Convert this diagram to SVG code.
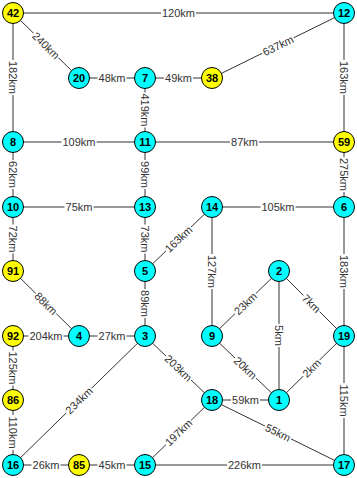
<svg xmlns="http://www.w3.org/2000/svg" width="357" height="478" viewBox="0 0 357 478">
<style>
.e{stroke:#333;stroke-width:1;fill:none}
.lb{fill:#fff}
.lt{font-family:"Liberation Sans",Arial,sans-serif;font-size:11px;fill:#333;text-anchor:middle}
.n circle{stroke:#000;stroke-width:1}
.c{fill:#00ffff}
.y{fill:#ffff00}
.n text{font-family:"Liberation Sans",Arial,sans-serif;font-size:11px;font-weight:bold;fill:#000;text-anchor:middle}
</style>
<rect width="357" height="478" fill="#fff"/>
<g id="connectors">
<line class="e" x1="13" y1="13" x2="344" y2="13"/>
<line class="e" x1="13" y1="13" x2="79" y2="78"/>
<line class="e" x1="13" y1="13" x2="13" y2="142"/>
<line class="e" x1="79" y1="78" x2="145" y2="78"/>
<line class="e" x1="145" y1="78" x2="212" y2="78"/>
<line class="e" x1="145" y1="78" x2="145" y2="142"/>
<line class="e" x1="212" y1="78" x2="344" y2="13"/>
<line class="e" x1="344" y1="13" x2="344" y2="142"/>
<line class="e" x1="13" y1="142" x2="145" y2="142"/>
<line class="e" x1="145" y1="142" x2="344" y2="142"/>
<line class="e" x1="13" y1="142" x2="13" y2="207"/>
<line class="e" x1="145" y1="142" x2="145" y2="207"/>
<line class="e" x1="344" y1="142" x2="344" y2="207"/>
<line class="e" x1="13" y1="207" x2="145" y2="207"/>
<line class="e" x1="212" y1="207" x2="344" y2="207"/>
<line class="e" x1="13" y1="207" x2="13" y2="271"/>
<line class="e" x1="145" y1="207" x2="145" y2="271"/>
<line class="e" x1="145" y1="271" x2="212" y2="207"/>
<line class="e" x1="212" y1="207" x2="212" y2="336"/>
<line class="e" x1="344" y1="207" x2="344" y2="336"/>
<line class="e" x1="212" y1="336" x2="279" y2="271"/>
<line class="e" x1="279" y1="271" x2="279" y2="400"/>
<line class="e" x1="279" y1="271" x2="344" y2="336"/>
<line class="e" x1="13" y1="271" x2="79" y2="336"/>
<line class="e" x1="145" y1="271" x2="145" y2="336"/>
<line class="e" x1="13" y1="336" x2="145" y2="336"/>
<line class="e" x1="145" y1="336" x2="212" y2="400"/>
<line class="e" x1="145" y1="336" x2="13" y2="465"/>
<line class="e" x1="212" y1="336" x2="279" y2="400"/>
<line class="e" x1="279" y1="400" x2="344" y2="336"/>
<line class="e" x1="344" y1="336" x2="344" y2="465"/>
<line class="e" x1="212" y1="400" x2="279" y2="400"/>
<line class="e" x1="212" y1="400" x2="344" y2="465"/>
<line class="e" x1="13" y1="336" x2="13" y2="465"/>
<line class="e" x1="13" y1="465" x2="344" y2="465"/>
<line class="e" x1="145" y1="465" x2="212" y2="400"/>
<g transform="translate(178.5,13)"><rect class="lb" x="-17.5" y="-6" width="35" height="12"/><text class="lt" y="4">120km</text></g>
<g transform="translate(46,45.5) rotate(44.6)"><rect class="lb" x="-17.5" y="-6" width="35" height="12"/><text class="lt" y="4">240km</text></g>
<g transform="translate(13,77.5) rotate(90)"><rect class="lb" x="-17.5" y="-6" width="35" height="12"/><text class="lt" y="4">182km</text></g>
<g transform="translate(112,78)"><rect class="lb" x="-14.5" y="-6" width="29" height="12"/><text class="lt" y="4">48km</text></g>
<g transform="translate(178.5,78)"><rect class="lb" x="-14.5" y="-6" width="29" height="12"/><text class="lt" y="4">49km</text></g>
<g transform="translate(145,110) rotate(90)"><rect class="lb" x="-17.5" y="-6" width="35" height="12"/><text class="lt" y="4">419km</text></g>
<g transform="translate(278,45.5) rotate(-25.9)"><rect class="lb" x="-17.5" y="-6" width="35" height="12"/><text class="lt" y="4">637km</text></g>
<g transform="translate(344,77.5) rotate(90)"><rect class="lb" x="-17.5" y="-6" width="35" height="12"/><text class="lt" y="4">163km</text></g>
<g transform="translate(79,142)"><rect class="lb" x="-17.5" y="-6" width="35" height="12"/><text class="lt" y="4">109km</text></g>
<g transform="translate(244.5,142)"><rect class="lb" x="-14.5" y="-6" width="29" height="12"/><text class="lt" y="4">87km</text></g>
<g transform="translate(13,174.5) rotate(90)"><rect class="lb" x="-14.5" y="-6" width="29" height="12"/><text class="lt" y="4">62km</text></g>
<g transform="translate(145,174.5) rotate(90)"><rect class="lb" x="-14.5" y="-6" width="29" height="12"/><text class="lt" y="4">99km</text></g>
<g transform="translate(344,174.5) rotate(90)"><rect class="lb" x="-17.5" y="-6" width="35" height="12"/><text class="lt" y="4">275km</text></g>
<g transform="translate(79,207)"><rect class="lb" x="-14.5" y="-6" width="29" height="12"/><text class="lt" y="4">75km</text></g>
<g transform="translate(278,207)"><rect class="lb" x="-17.5" y="-6" width="35" height="12"/><text class="lt" y="4">105km</text></g>
<g transform="translate(13,239) rotate(90)"><rect class="lb" x="-14.5" y="-6" width="29" height="12"/><text class="lt" y="4">72km</text></g>
<g transform="translate(145,239) rotate(90)"><rect class="lb" x="-14.5" y="-6" width="29" height="12"/><text class="lt" y="4">73km</text></g>
<g transform="translate(178.5,239) rotate(-43.2)"><rect class="lb" x="-17.5" y="-6" width="35" height="12"/><text class="lt" y="4">163km</text></g>
<g transform="translate(212,271.5) rotate(90)"><rect class="lb" x="-17.5" y="-6" width="35" height="12"/><text class="lt" y="4">127km</text></g>
<g transform="translate(344,271.5) rotate(90)"><rect class="lb" x="-17.5" y="-6" width="35" height="12"/><text class="lt" y="4">183km</text></g>
<g transform="translate(245.5,303.5) rotate(-44)"><rect class="lb" x="-14.5" y="-6" width="29" height="12"/><text class="lt" y="4">23km</text></g>
<g transform="translate(279,335.5) rotate(90)"><rect class="lb" x="-11.5" y="-6" width="23" height="12"/><text class="lt" y="4">5km</text></g>
<g transform="translate(311.5,303.5) rotate(44.5)"><rect class="lb" x="-11.5" y="-6" width="23" height="12"/><text class="lt" y="4">7km</text></g>
<g transform="translate(46,303.5) rotate(45)"><rect class="lb" x="-14.5" y="-6" width="29" height="12"/><text class="lt" y="4">88km</text></g>
<g transform="translate(145,303.5) rotate(90)"><rect class="lb" x="-14.5" y="-6" width="29" height="12"/><text class="lt" y="4">89km</text></g>
<g transform="translate(46,336)"><rect class="lb" x="-17.5" y="-6" width="35" height="12"/><text class="lt" y="4">204km</text></g>
<g transform="translate(112,336)"><rect class="lb" x="-14.5" y="-6" width="29" height="12"/><text class="lt" y="4">27km</text></g>
<g transform="translate(178.5,368) rotate(43.7)"><rect class="lb" x="-17.5" y="-6" width="35" height="12"/><text class="lt" y="4">203km</text></g>
<g transform="translate(79,400.5) rotate(-44.3)"><rect class="lb" x="-17.5" y="-6" width="35" height="12"/><text class="lt" y="4">234km</text></g>
<g transform="translate(245.5,368) rotate(43.7)"><rect class="lb" x="-14.5" y="-6" width="29" height="12"/><text class="lt" y="4">20km</text></g>
<g transform="translate(311.5,368) rotate(-44.5)"><rect class="lb" x="-11.5" y="-6" width="23" height="12"/><text class="lt" y="4">2km</text></g>
<g transform="translate(344,400.5) rotate(90)"><rect class="lb" x="-17.5" y="-6" width="35" height="12"/><text class="lt" y="4">115km</text></g>
<g transform="translate(245.5,400)"><rect class="lb" x="-14.5" y="-6" width="29" height="12"/><text class="lt" y="4">59km</text></g>
<g transform="translate(278,432.5) rotate(26.2)"><rect class="lb" x="-14.5" y="-6" width="29" height="12"/><text class="lt" y="4">55km</text></g>
<g transform="translate(13,368) rotate(90)"><rect class="lb" x="-17.5" y="-6" width="35" height="12"/><text class="lt" y="4">125km</text></g>
<g transform="translate(13,432.5) rotate(90)"><rect class="lb" x="-17.5" y="-6" width="35" height="12"/><text class="lt" y="4">110km</text></g>
<g transform="translate(46,465)"><rect class="lb" x="-14.5" y="-6" width="29" height="12"/><text class="lt" y="4">26km</text></g>
<g transform="translate(112,465)"><rect class="lb" x="-14.5" y="-6" width="29" height="12"/><text class="lt" y="4">45km</text></g>
<g transform="translate(178.5,432.5) rotate(-44.1)"><rect class="lb" x="-17.5" y="-6" width="35" height="12"/><text class="lt" y="4">197km</text></g>
<g transform="translate(244.5,465)"><rect class="lb" x="-17.5" y="-6" width="35" height="12"/><text class="lt" y="4">226km</text></g>
</g>
<g id="n42" class="n"><circle class="y" cx="13" cy="13" r="10.5"/><text x="13" y="17">42</text></g>
<g id="n12" class="n"><circle class="c" cx="344" cy="13" r="10.5"/><text x="344" y="17">12</text></g>
<g id="n20" class="n"><circle class="c" cx="79" cy="78" r="10.5"/><text x="79" y="82">20</text></g>
<g id="n7" class="n"><circle class="c" cx="145" cy="78" r="10.5"/><text x="145" y="82">7</text></g>
<g id="n38" class="n"><circle class="y" cx="212" cy="78" r="10.5"/><text x="212" y="82">38</text></g>
<g id="n8" class="n"><circle class="c" cx="13" cy="142" r="10.5"/><text x="13" y="146">8</text></g>
<g id="n11" class="n"><circle class="c" cx="145" cy="142" r="10.5"/><text x="145" y="146">11</text></g>
<g id="n59" class="n"><circle class="y" cx="344" cy="142" r="10.5"/><text x="344" y="146">59</text></g>
<g id="n10" class="n"><circle class="c" cx="13" cy="207" r="10.5"/><text x="13" y="211">10</text></g>
<g id="n13" class="n"><circle class="c" cx="145" cy="207" r="10.5"/><text x="145" y="211">13</text></g>
<g id="n14" class="n"><circle class="c" cx="212" cy="207" r="10.5"/><text x="212" y="211">14</text></g>
<g id="n6" class="n"><circle class="c" cx="344" cy="207" r="10.5"/><text x="344" y="211">6</text></g>
<g id="n91" class="n"><circle class="y" cx="13" cy="271" r="10.5"/><text x="13" y="275">91</text></g>
<g id="n5" class="n"><circle class="c" cx="145" cy="271" r="10.5"/><text x="145" y="275">5</text></g>
<g id="n2" class="n"><circle class="c" cx="279" cy="271" r="10.5"/><text x="279" y="275">2</text></g>
<g id="n92" class="n"><circle class="y" cx="13" cy="336" r="10.5"/><text x="13" y="340">92</text></g>
<g id="n4" class="n"><circle class="c" cx="79" cy="336" r="10.5"/><text x="79" y="340">4</text></g>
<g id="n3" class="n"><circle class="c" cx="145" cy="336" r="10.5"/><text x="145" y="340">3</text></g>
<g id="n9" class="n"><circle class="c" cx="212" cy="336" r="10.5"/><text x="212" y="340">9</text></g>
<g id="n19" class="n"><circle class="c" cx="344" cy="336" r="10.5"/><text x="344" y="340">19</text></g>
<g id="n86" class="n"><circle class="y" cx="13" cy="400" r="10.5"/><text x="13" y="404">86</text></g>
<g id="n18" class="n"><circle class="c" cx="212" cy="400" r="10.5"/><text x="212" y="404">18</text></g>
<g id="n1" class="n"><circle class="c" cx="279" cy="400" r="10.5"/><text x="279" y="404">1</text></g>
<g id="n16" class="n"><circle class="c" cx="13" cy="465" r="10.5"/><text x="13" y="469">16</text></g>
<g id="n85" class="n"><circle class="y" cx="79" cy="465" r="10.5"/><text x="79" y="469">85</text></g>
<g id="n15" class="n"><circle class="c" cx="145" cy="465" r="10.5"/><text x="145" y="469">15</text></g>
<g id="n17" class="n"><circle class="c" cx="344" cy="465" r="10.5"/><text x="344" y="469">17</text></g>
</svg>
